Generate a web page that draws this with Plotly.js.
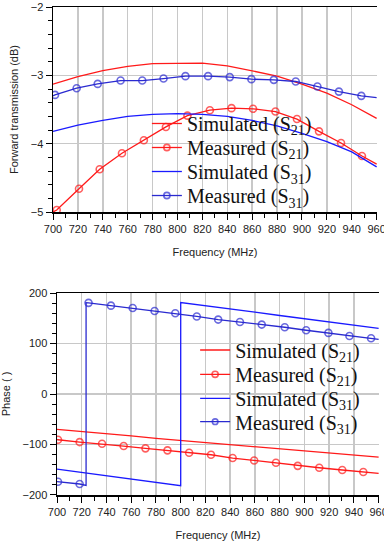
<!DOCTYPE html>
<html><head><meta charset="utf-8">
<script src="https://cdn.plot.ly/plotly-3.0.1.min.js"></script>
<style>html,body{margin:0;padding:0;background:#fff}#chart{width:384px;height:541px}</style>
</head><body><div id="chart"></div>
<script>
// ---- Forward transmission (dB) ----
const simFreq = [700,720,740,760,780,800,820,840,860,880,900,920,940,960];
const simS21dB = [-3.13,-3.02,-2.93,-2.87,-2.83,-2.82,-2.82,-2.86,-2.93,-3.01,-3.13,-3.26,-3.43,-3.63];
const simS31dB = [-3.82,-3.73,-3.66,-3.60,-3.57,-3.56,-3.57,-3.60,-3.66,-3.74,-3.85,-3.97,-4.12,-4.34];

const measS21Freq = [700,703,720.9,737.5,755.4,773,790.7,808,826,843.4,860.7,878.7,896,913.7,931.4,948.2,960];
const measS21dB = [-5.0,-4.97,-4.66,-4.375,-4.14,-3.95,-3.755,-3.59,-3.51,-3.48,-3.49,-3.53,-3.64,-3.82,-3.99,-4.18,-4.30];

const measS31Freq = [700,701.6,719,735.9,754.3,771.7,788.8,806.4,824.6,842,859.4,877.4,895,912.4,929.7,947.7,960];
const measS31dB = [-3.30,-3.286,-3.188,-3.125,-3.076,-3.076,-3.047,-3.012,-3.012,-3.026,-3.056,-3.066,-3.09,-3.164,-3.238,-3.30,-3.325];

// ---- Phase (deg) ----
const simS21Phase = [-70,-74,-79,-83,-88,-92,-96,-100,-105,-109,-113,-117,-121,-125];

const simS31PhaseFreq = [700,720,740,760,780,800,800,820,840,860,880,900,920,940,960];
const simS31Phase = [-148.6,-155,-161.5,-168,-175,-181.5,181,175,168.5,162,155.5,149,142.5,136,130];

const measS21PhaseFreq = [700,700.8,718.3,736.4,753.9,771.5,789.3,806.8,824.5,842,859.4,877,894.6,912,930.6,947.6,960];
const measS21Phase = [-90,-90.6,-95.2,-98.5,-103.1,-107.6,-111.6,-116.3,-120.3,-126.8,-131.6,-136.1,-142.3,-146,-150.5,-154.5,-157];

const measS31PhaseFreq = [700,700.8,718.3,723.5,723.5,725.5,743.6,761.2,778.9,795.6,813,830.3,847.9,865.5,884.1,901.4,919.4,936.4,953.9,960];
const measS31Phase = [-173.5,-173.7,-178.2,-181,181,180.5,175,170.4,164.5,159.9,153.6,147.4,142.7,137.5,132.2,126.3,121,115,110.4,108];

// vertices that only shape the line (range ends, phase wrap), without a marker
const lineOnlyFreq = [700,723.5,960];

const legendNames = ['Simulated (S<sub>21</sub>)','Measured (S<sub>21</sub>)','Simulated (S<sub>31</sub>)','Measured (S<sub>31</sub>)'];

const RED = '#ff1a1a', BLUE = '#1a1aff', BLUE2 = '#2a2ad0';
function sizes(xs){ return xs.map(v => lineOnlyFreq.includes(v) ? 0 : 7); }

function lineTrace(x,y,name,color,xa,ya,leg){
  return {x:x,y:y,name:name,type:'scatter',mode:'lines',line:{color:color,width:1.3},xaxis:xa,yaxis:ya,legend:leg,hoverinfo:'skip'};
}
function measTrace(x,y,name,color,xa,ya,leg){
  return {x:x,y:y,name:name,type:'scatter',mode:'lines+markers',line:{color:color,width:1.3},
    marker:{symbol:'circle-open',size:sizes(x),color:color,line:{width:1.6,color:color}},xaxis:xa,yaxis:ya,legend:leg,hoverinfo:'skip'};
}

const data = [
  lineTrace(simFreq,simS21dB,legendNames[0],RED,'x','y','legend'),
  measTrace(measS21Freq,measS21dB,legendNames[1],RED,'x','y','legend2'),
  lineTrace(simFreq,simS31dB,legendNames[2],BLUE,'x','y','legend3'),
  measTrace(measS31Freq,measS31dB,legendNames[3],BLUE2,'x','y','legend4'),
  lineTrace(simFreq,simS21Phase,legendNames[0],RED,'x2','y2','legend5'),
  measTrace(measS21PhaseFreq,measS21Phase,legendNames[1],RED,'x2','y2','legend6'),
  lineTrace(simS31PhaseFreq,simS31Phase,legendNames[2],BLUE,'x2','y2','legend7'),
  measTrace(measS31PhaseFreq,measS31Phase,legendNames[3],BLUE2,'x2','y2','legend8')
];

const tickFont = {family:'"Liberation Sans", Arial, sans-serif', size:11, color:'#222'};
const titleFont = {family:'"Liberation Sans", Arial, sans-serif', size:11, color:'#222'};
function ax(extra){
  return Object.assign({showline:true,linecolor:'#000',linewidth:1.5,ticks:'outside',ticklen:6,tickwidth:1,tickcolor:'#000',
    showgrid:true,gridcolor:'#c8c8c8',gridwidth:1.5,zeroline:false,tickfont:tickFont,fixedrange:true,ticklabeloverflow:'allow'},extra);
}
const legFont = {family:'"Liberation Serif", "Times New Roman", serif', size:20, color:'#111'};
function leg(x,y){ return {x:x,y:y,xanchor:'left',yanchor:'middle',bgcolor:'rgba(0,0,0,0)',borderwidth:0,font:legFont,itemwidth:30}; }

// legend rows (paper coords), one row per entry
const topLegX = 0.288, botLegX = 0.436;
const topRows = [0.7613,0.7121,0.6629,0.6137];
const botRows = [0.2971,0.2473,0.1982,0.1502];

const layout = {
  width:384,height:541,margin:{l:53,r:5,t:7,b:46},
  paper_bgcolor:'#fff',plot_bgcolor:'#fff',showlegend:true,
  xaxis: ax({domain:[0,0.9939],range:[700,960.3],dtick:20,tick0:700,mirror:true,anchor:'y',
    minor:{dtick:10,ticks:'outside',ticklen:4,tickcolor:'#000',showgrid:false},
    title:{text:'Frequency (MHz)',font:titleFont,standoff:14}}),
  yaxis: ax({domain:[0.5799,1],range:[-5,-2],dtick:1,tick0:-5,anchor:'x',
    minor:{dtick:0.2,ticks:'outside',ticklen:4,tickcolor:'#000',showgrid:false},
    title:{text:'Forward transmission (dB)',font:titleFont,standoff:10}}),
  xaxis2: ax({domain:[0.0123,1],range:[700,960.3],dtick:20,tick0:700,mirror:true,anchor:'y2',
    minor:{dtick:10,ticks:'outside',ticklen:4,tickcolor:'#000',showgrid:false},
    title:{text:'Frequency (MHz)',font:titleFont,standoff:14}}),
  yaxis2: ax({domain:[0,0.4139],range:[-200,200],dtick:100,tick0:-200,anchor:'x2',
    minor:{dtick:20,ticks:'outside',ticklen:4,tickcolor:'#000',showgrid:false},
    title:{text:'Phase ( )',font:titleFont,standoff:10}})
};
['legend','legend2','legend3','legend4'].forEach((k,i)=>{ layout[k] = leg(topLegX, topRows[i]); });
['legend5','legend6','legend7','legend8'].forEach((k,i)=>{ layout[k] = leg(botLegX, botRows[i]); });

Plotly.newPlot('chart',data,layout,{staticPlot:true,displayModeBar:false});
</script>
</body></html>
